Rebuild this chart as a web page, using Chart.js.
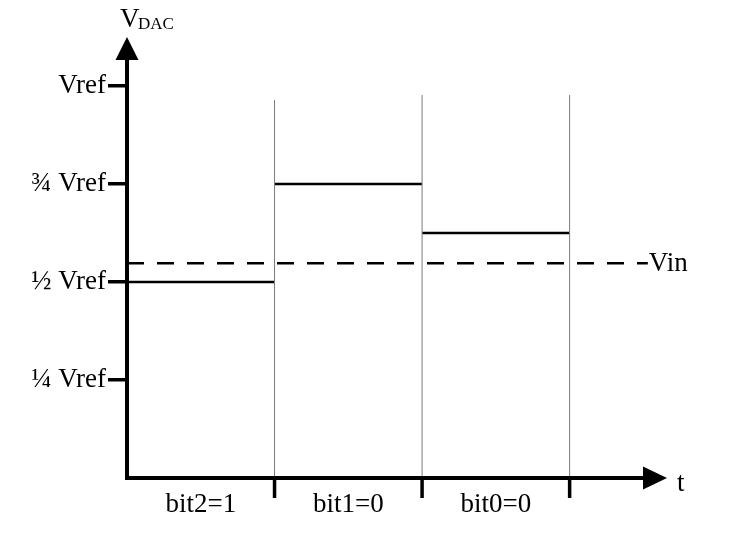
<!DOCTYPE html>
<html>
<head>
<meta charset="utf-8">
<title>SAR DAC voltage steps</title>
<script src="https://cdn.jsdelivr.net/npm/chart.js@4/dist/chart.umd.min.js"></script>
<style>
    html, body { margin: 0; padding: 0; background: #fff; }
    #wrap { width: 733px; height: 540px; }
</style>
</head>
<body>
<div id="wrap"><canvas id="dacChart" width="733" height="540"></canvas></div>
<script>
// --- DATA ---
const bitLabels = ['bit2=1', 'bit1=0', 'bit0=0'];
const bitStarts = [0, 1, 2];
const bitEnds = [1, 2, 3];
const bitLevels = [0.5, 0.75, 0.625];      // DAC output per cycle (x Vref)
const edgeTops = [0.964, 0.977, 0.977];     // height of the thin cycle lines
const vinLevel = 0.548;
const vinEnd = 3.53;
const yTickValues = [0.25, 0.5, 0.75, 1];
const yTickLabels = ['¼ Vref', '½ Vref', '¾ Vref', 'Vref'];
const xTickValues = [0.5, 1.5, 2.5];

const FONT = "'Liberation Serif', 'Times New Roman', serif";

// thin grey boundaries between the conversion cycles
const edgeSets = bitEnds.map((t, i) => ({
    data: [{ x: t, y: 0 }, { x: t, y: edgeTops[i] }],
    borderColor: '#7a7a7a',
    borderWidth: 1
}));

// the DAC level held during each bit decision
const stepSets = bitLevels.map((lvl, i) => ({
    data: [{ x: bitStarts[i], y: lvl }, { x: bitEnds[i], y: lvl }],
    borderColor: '#000',
    borderWidth: 2.5
}));

const vinSet = {
    data: [{ x: 0, y: vinLevel }, { x: vinEnd, y: vinLevel }],
    borderColor: '#000',
    borderWidth: 2.5,
    borderDash: [17, 13]
};

const datasets = [...edgeSets, ...stepSets, vinSet].map(d => Object.assign({
    showLine: true,
    pointRadius: 0,
    fill: false
}, d));

// axes with arrow heads, cycle ticks and free labels
const axesPlugin = {
    id: 'axesPlugin',
    afterDatasetsDraw(chart) {
        const ctx = chart.ctx;
        const { left, right, top, bottom } = chart.chartArea;
        const xs = chart.scales.x;
        const ys = chart.scales.y;

        ctx.save();
        ctx.strokeStyle = '#000';
        ctx.fillStyle = '#000';

        // vertical axis
        ctx.lineWidth = 4;
        ctx.beginPath();
        ctx.moveTo(left, bottom + 2);
        ctx.lineTo(left, top + 20);
        ctx.stroke();
        ctx.beginPath();
        ctx.moveTo(left, top);
        ctx.lineTo(left - 11.5, top + 23);
        ctx.lineTo(left + 11.5, top + 23);
        ctx.closePath();
        ctx.fill();

        // horizontal axis
        ctx.beginPath();
        ctx.moveTo(left - 2, bottom);
        ctx.lineTo(right - 20, bottom);
        ctx.stroke();
        ctx.beginPath();
        ctx.moveTo(right, bottom);
        ctx.lineTo(right - 24, bottom - 11.5);
        ctx.lineTo(right - 24, bottom + 11.5);
        ctx.closePath();
        ctx.fill();

        // tick marks below the time axis at each cycle boundary
        ctx.lineWidth = 3.5;
        bitEnds.forEach(t => {
            const px = xs.getPixelForValue(t);
            ctx.beginPath();
            ctx.moveTo(px, bottom);
            ctx.lineTo(px, bottom + 20);
            ctx.stroke();
        });

        // labels
        ctx.font = '27px ' + FONT;
        ctx.textBaseline = 'alphabetic';
        ctx.textAlign = 'left';
        ctx.fillText('Vin', xs.getPixelForValue(vinEnd) + 1, ys.getPixelForValue(vinLevel) + 8);
        ctx.fillText('t', right + 10, bottom + 13);
        ctx.fillText('V', left - 7, top - 10);
        ctx.font = '17px ' + FONT;
        ctx.fillText('DAC', left + 11, top - 8);
        ctx.restore();
    }
};

const chart = new Chart(document.getElementById('dacChart'), {
    type: 'scatter',
    data: { datasets },
    options: {
        responsive: false,
        animation: false,
        layout: { padding: { top: 37, right: 66, left: 0, bottom: 0 } },
        plugins: {
            legend: { display: false },
            tooltip: { enabled: false }
        },
        scales: {
            x: {
                type: 'linear',
                min: 0,
                max: 3.66,
                afterBuildTicks: s => { s.ticks = xTickValues.map(v => ({ value: v })); },
                afterFit: s => { s.height = 62; },
                ticks: {
                    callback: (v, i) => bitLabels[i],
                    font: { family: FONT, size: 27 },
                    color: '#000',
                    padding: 3,
                    maxRotation: 0
                },
                grid: { display: false },
                border: { display: false }
            },
            y: {
                type: 'linear',
                min: 0,
                max: 1.125,
                afterBuildTicks: s => { s.ticks = yTickValues.map(v => ({ value: v })); },
                afterFit: s => { s.width = 127; },
                ticks: {
                    callback: (v, i) => yTickLabels[i],
                    font: { family: FONT, size: 27 },
                    color: '#000',
                    padding: 2
                },
                grid: {
                    drawOnChartArea: false,
                    tickLength: 19,
                    lineWidth: 3.5,
                    color: '#000'
                },
                border: { display: false }
            }
        }
    },
    plugins: [axesPlugin]
});
</script>
</body>
</html>
